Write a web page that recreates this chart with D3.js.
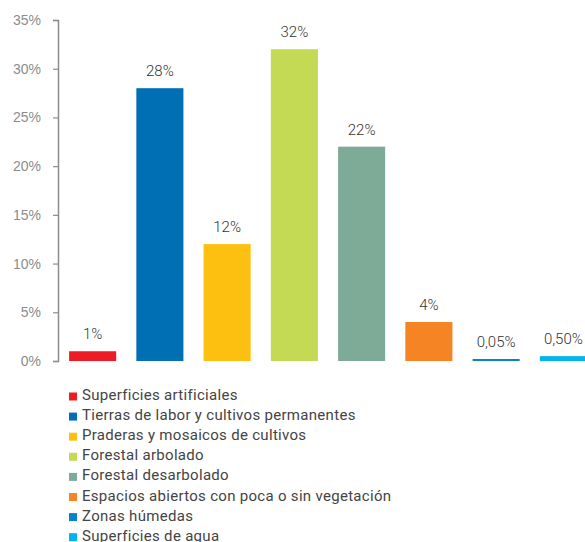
<!DOCTYPE html>
<html>
<head>
<meta charset="utf-8">
<script src="https://cdn.jsdelivr.net/npm/d3@7"></script>
<style>
  body { margin: 0; background: #fff; }
  svg { display: block; font-family: Roboto, 'Liberation Sans', sans-serif; }
</style>
</head>
<body>
<div id="chart"></div>
<script>
/* chart data */
const categories = [
  'Superficies artificiales',
  'Tierras de labor y cultivos permanentes',
  'Praderas y mosaicos de cultivos',
  'Forestal arbolado',
  'Forestal desarbolado',
  'Espacios abiertos con poca o sin vegetación',
  'Zonas húmedas',
  'Superficies de agua'
];
const values = [1, 28, 12, 32, 22, 4, 0.05, 0.5];
const valueLabels = ['1%', '28%', '12%', '32%', '22%', '4%', '0,05%', '0,50%'];
const colors = ['#ed1c24', '#006fb3', '#fdc010', '#c4da54', '#7eab98', '#f58424', '#0b82c8', '#00b5ec'];
const yTicks = [0, 5, 10, 15, 20, 25, 30, 35];

const width = 585;
const height = 542;

const svg = d3.select('#chart')
  .append('svg')
  .attr('width', width)
  .attr('height', height);

/* scales */
const x = d3.scaleBand()
  .domain(categories)
  .range([58, 598])
  .paddingInner(0.3)
  .paddingOuter(0.165);

const y = d3.scaleLinear()
  .domain([0, 35])
  .range([361, 20]);

/* y axis */
const yAxis = svg.append('g')
  .attr('transform', 'translate(58,0)')
  .call(d3.axisLeft(y).tickValues(yTicks).tickSize(5).tickPadding(12).tickFormat(function (d) { return d + '%'; }));
yAxis.select('.domain').attr('stroke', '#8c8c8c').attr('stroke-width', 1.5);
yAxis.selectAll('.tick line').attr('stroke', '#8c8c8c').attr('stroke-width', 1.2);
yAxis.selectAll('.tick text')
  .attr('fill', '#8c8c8c')
  .style('font-size', '14px')
  .style('font-weight', 300);

/* bars - tiny values get a 2px minimum so they stay visible */
svg.selectAll('.bar')
  .data(values)
  .enter()
  .append('rect')
  .attr('class', 'bar')
  .attr('x', function (d, i) { return x(categories[i]); })
  .attr('width', x.bandwidth())
  .attr('y', function (d) { return y(0) - Math.max(y(0) - y(d), 2); })
  .attr('height', function (d) { return Math.max(y(0) - y(d), 2); })
  .attr('fill', function (d, i) { return colors[i]; });

/* value labels */
svg.selectAll('.val')
  .data(values)
  .enter()
  .append('text')
  .attr('class', 'val')
  .attr('x', function (d, i) { return x(categories[i]) + x.bandwidth() / 2; })
  .attr('y', function (d) { return y(0) - Math.max(y(0) - y(d), 2) - 12; })
  .attr('text-anchor', 'middle')
  .attr('fill', '#333')
  .style('font-size', '15px')
  .style('font-weight', 300)
  .text(function (d, i) { return valueLabels[i]; });

/* legend */
const legend = svg.selectAll('.legend')
  .data(categories)
  .enter()
  .append('g')
  .attr('class', 'legend')
  .attr('transform', function (d, i) { return 'translate(69,' + (400 + i * 20.1) + ')'; });
legend.append('rect')
  .attr('x', 0)
  .attr('y', -7.5)
  .attr('width', 8)
  .attr('height', 8)
  .attr('fill', function (d, i) { return colors[i]; });
legend.append('text')
  .attr('x', 13)
  .attr('y', 0)
  .attr('fill', '#444')
  .style('font-size', '15px')
  .style('letter-spacing', '0.3px')
  .text(function (d) { return d; });
</script>
</body>
</html>
